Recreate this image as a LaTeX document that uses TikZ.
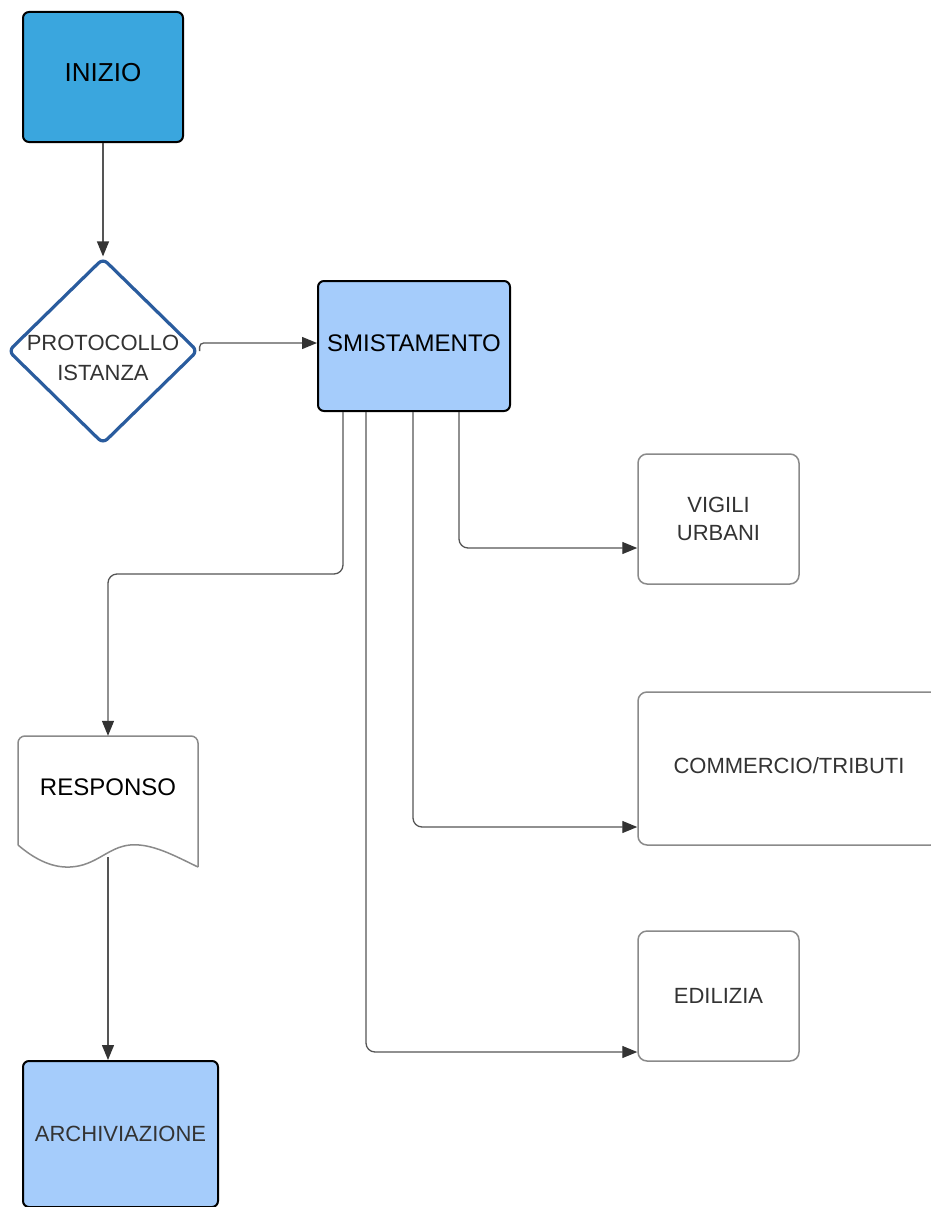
\documentclass[tikz,border=0pt]{standalone}
\usepackage{fontspec}
\setmainfont{Liberation Sans}
\usetikzlibrary{shapes.geometric,arrows.meta,calc}

\definecolor{startblue}{HTML}{3AA6DE}
\definecolor{lightblue}{HTML}{A5CCFB}
\definecolor{diamondblue}{HTML}{2A5C9E}
\definecolor{linegray}{HTML}{555555}
\definecolor{tipgray}{HTML}{333333}
\definecolor{boxgray}{HTML}{8A8A8A}
\definecolor{txtgray}{HTML}{333333}

\tikzset{
  fs/.style={font=\fontsize{#1}{28}\selectfont},
  mainbox/.style={draw=black, line width=2pt, rounded corners=6pt, inner sep=0pt, align=center},
  plainbox/.style={draw=boxgray, fill=white, line width=1.5pt, rounded corners=9pt,
                   inner sep=0pt, align=center, text=txtgray, fs=22},
  conn/.style={draw=linegray, line width=1.3pt, rounded corners=9pt,
               -{Triangle[length=15pt,width=12pt,color=tipgray]}},
}

\begin{document}
\begin{tikzpicture}[x=1pt, y=-1pt]
\useasboundingbox (0,0) rectangle (931,1207);
\clip (0,0) rectangle (931,1207);
\fill[white] (0,0) rectangle (931,1207);

% process boxes
\node[mainbox, fill=startblue, minimum width=160pt, minimum height=130pt, fs=26,
      text depth=10pt]
  (start) at (103,77) {INIZIO};
\node[draw=diamondblue, line width=3.2pt, fill=white, shape=diamond, aspect=1,
      inner sep=0pt, minimum width=190pt, minimum height=186pt, rounded corners=6pt,
      label={[align=center, text=txtgray, font=\fontsize{22}{30}\selectfont,
              yshift=-7pt]center:PROTOCOLLO\\ISTANZA}]
  (proto) at (103,351) {};
\node[mainbox, fill=lightblue, minimum width=192pt, minimum height=130pt, fs=24,
      text depth=6pt]
  (smist) at (414,346) {SMISTAMENTO};
\node[plainbox, minimum width=161pt, minimum height=130pt]
  (vig) at (718.5,519) {VIGILI\\URBANI};
\node[plainbox, minimum width=302pt, minimum height=153pt, text depth=6pt]
  (comm) at (789,768.5) {COMMERCIO/TRIBUTI};
\node[plainbox, minimum width=161pt, minimum height=130pt]
  (edil) at (718.5,996) {EDILIZIA};
\node[mainbox, fill=lightblue, minimum width=195pt, minimum height=146pt, fs=22, text=txtgray]
  (arch) at (120.5,1134) {ARCHIVIAZIONE};

% document shape with wavy bottom edge
\draw[draw=boxgray, fill=white, line width=1.5pt, rounded corners=7pt]
  (18,845) -- (18,736) -- (198,736) -- (198,867);
\draw[draw=boxgray, line width=1.5pt]
  (198,867) .. controls (175,856) and (152,843) .. (130,845)
            .. controls (108,847) and (96,866) .. (70,867)
            .. controls (50,868) and (32,857) .. (18,845);
\node[fs=24, minimum width=180pt, minimum height=102pt, inner sep=0pt]
  (resp) at (108,787) {RESPONSO};
\coordinate (respout) at (108,857);

% connectors
\draw[conn] (start.south) -- (proto.north);
\draw[conn, rounded corners=4pt] (proto.east) |- ($(smist.west)+(0,-3)$);
\draw[conn] ($(smist.south)+(45,0)$) |- ($(vig.west)+(0,29)$);
\draw[conn] ($(smist.south)+(-1,0)$) |- ($(comm.west)+(0,58.5)$);
\draw[conn] ($(smist.south)+(-48,0)$) |- ($(edil.west)+(0,56)$);
\draw[conn] ($(smist.south)+(-71,0)$) -- ($(smist.south)+(-71,162)$)
  -| (resp.north);
\draw[conn] (respout) -- (respout |- arch.north);
\end{tikzpicture}
\end{document}
